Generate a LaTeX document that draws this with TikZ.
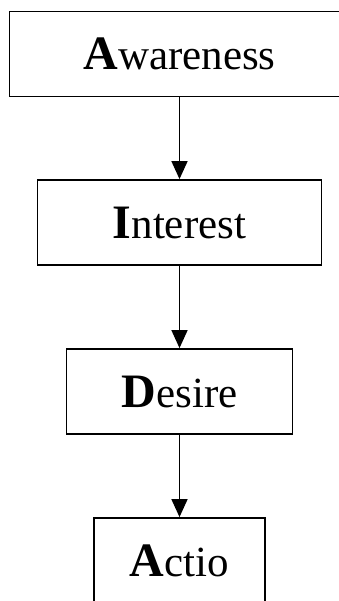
\documentclass[tikz,border=0pt]{standalone}
\usepackage{fontspec}
\setmainfont{Liberation Serif}
\usepackage{tikz}
\usetikzlibrary{arrows.meta,positioning}

\newcommand{\firstletter}[1]{{\bfseries\fontsize{48}{48}\selectfont #1}}

\begin{document}
\begin{tikzpicture}[
    x=1pt, y=1pt,
    font=\fontsize{43}{50}\selectfont,
    stage/.style={draw, line width=1.8pt, align=center, inner sep=0pt,
      minimum height=85pt},
    arrow/.style={-{Triangle[width=16pt,length=18pt]}, line width=1.6pt}
  ]
    \useasboundingbox (0,0) rectangle (339,-601);

    \node[stage, minimum width=340pt] (aware) at (179.5,-54)
      {\firstletter{A}wareness};
    \node[stage, minimum width=284pt] (interest) at (179.5,-222.5)
      {\firstletter{I}nterest};
    \node[stage, minimum width=226pt] (desire) at (179.5,-391.5)
      {\firstletter{D}esire};
    \node[stage, minimum width=171pt] (action) at (179.5,-560.5)
      {\firstletter{A}ctio};

    \draw[arrow] (aware) -- (interest);
    \draw[arrow] (interest) -- (desire);
    \draw[arrow] (desire) -- (action);
  \end{tikzpicture}
\end{document}
